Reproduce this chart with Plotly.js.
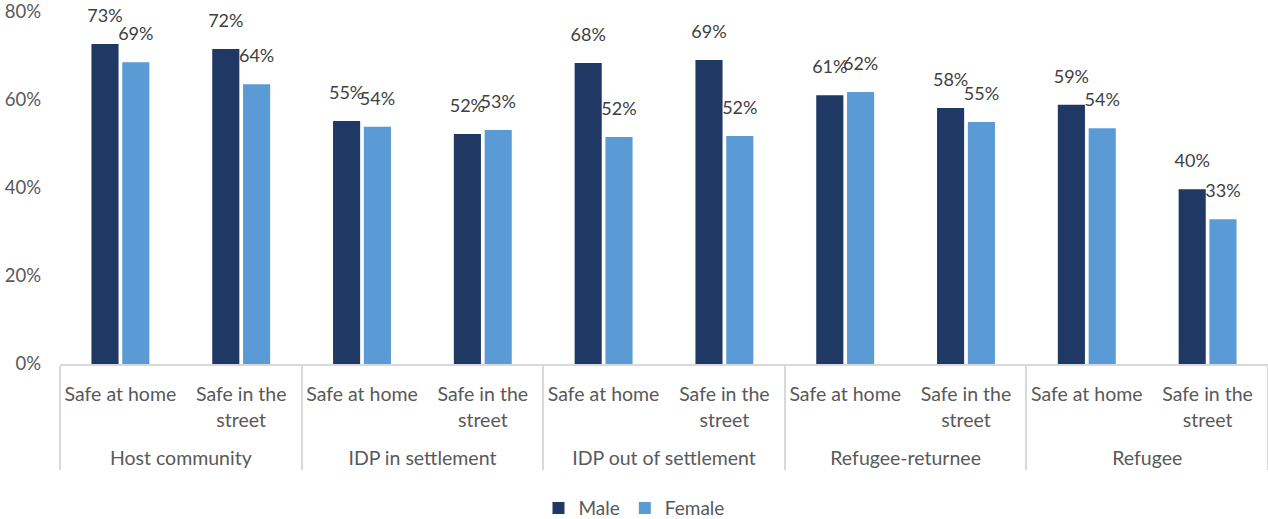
<!DOCTYPE html>
<html>
<head>
<meta charset="utf-8">
<script src="https://cdn.plot.ly/plotly-3.0.1.min.js"></script>
<style>html,body{margin:0;padding:0;background:#fff;}#chart{width:1268px;height:519px;}</style>
</head>
<body>
<div id="chart"></div>
<script>
const groups = ["Host community","Host community","IDP in settlement","IDP in settlement","IDP out of settlement","IDP out of settlement","Refugee-returnee","Refugee-returnee","Refugee","Refugee"];
const subcats = ["Safe at home","Safe in the street","Safe at home","Safe in the street","Safe at home","Safe in the street","Safe at home","Safe in the street","Safe at home","Safe in the street"];
const male = [0.727, 0.716, 0.552, 0.523, 0.684, 0.691, 0.611, 0.582, 0.589, 0.397];
const female = [0.686, 0.636, 0.539, 0.532, 0.516, 0.518, 0.618, 0.550, 0.536, 0.329];
const seriesNames = ["Male","Female"];

const FONT = "Lato, 'Open Sans', sans-serif";
const TXT = "#595959";
// display labels (line-wrapped like the original), with a spacer line below
const subLabels = subcats.map(s => (s === "Safe in the street" ? "Safe in the<br>street" : s) + "<br>&nbsp;");

const mk = (name, vals, color) => ({
  type: "bar",
  name: name,
  x: [groups, subLabels],
  y: vals,
  marker: {color: color},
  text: vals.map(v => Math.round(v*100) + "%"),
  texttemplate: "%{text}<br><sup>&nbsp;</sup>",
  textposition: "outside",
  textfont: {family: FONT, size: 18, color: "#404040"},
  constraintext: "none",
  cliponaxis: false,
  hoverinfo: "skip"
});

const data = [mk(seriesNames[0], male, "#203864"), mk(seriesNames[1], female, "#5b9bd5")];
const layout = {
  width: 1268, height: 519,
  margin: {l: 60, r: 0, t: 12, b: 155},
  paper_bgcolor: "#fff", plot_bgcolor: "#fff",
  barmode: "group", bargap: 0.49, bargroupgap: 0.12,
  font: {family: FONT, color: TXT, size: 19},
  showlegend: true,
  legend: {orientation: "h", xref: "container", x: 0.5, xanchor: "center", yref: "container", y: 0.021, yanchor: "middle",
           font: {size: 19, color: TXT}},
  xaxis: {
    type: "multicategory",
    showline: true, linecolor: "#d9d9d9", linewidth: 2,
    showgrid: false, ticks: "",
    showdividers: true, dividercolor: "#d9d9d9", dividerwidth: 2,
    ticklabelstandoff: 12,
    tickfont: {size: 19.5, color: TXT}
  },
  yaxis: {
    range: [0, 0.8], dtick: 0.2, tickformat: ".0%",
    showgrid: false, zeroline: false, showline: false, ticks: "",
    ticklabelstandoff: 18,
    tickfont: {size: 18.5, color: TXT}
  }
};
Plotly.newPlot("chart", data, layout, {displayModeBar: false, staticPlot: true});
</script>
</body>
</html>
